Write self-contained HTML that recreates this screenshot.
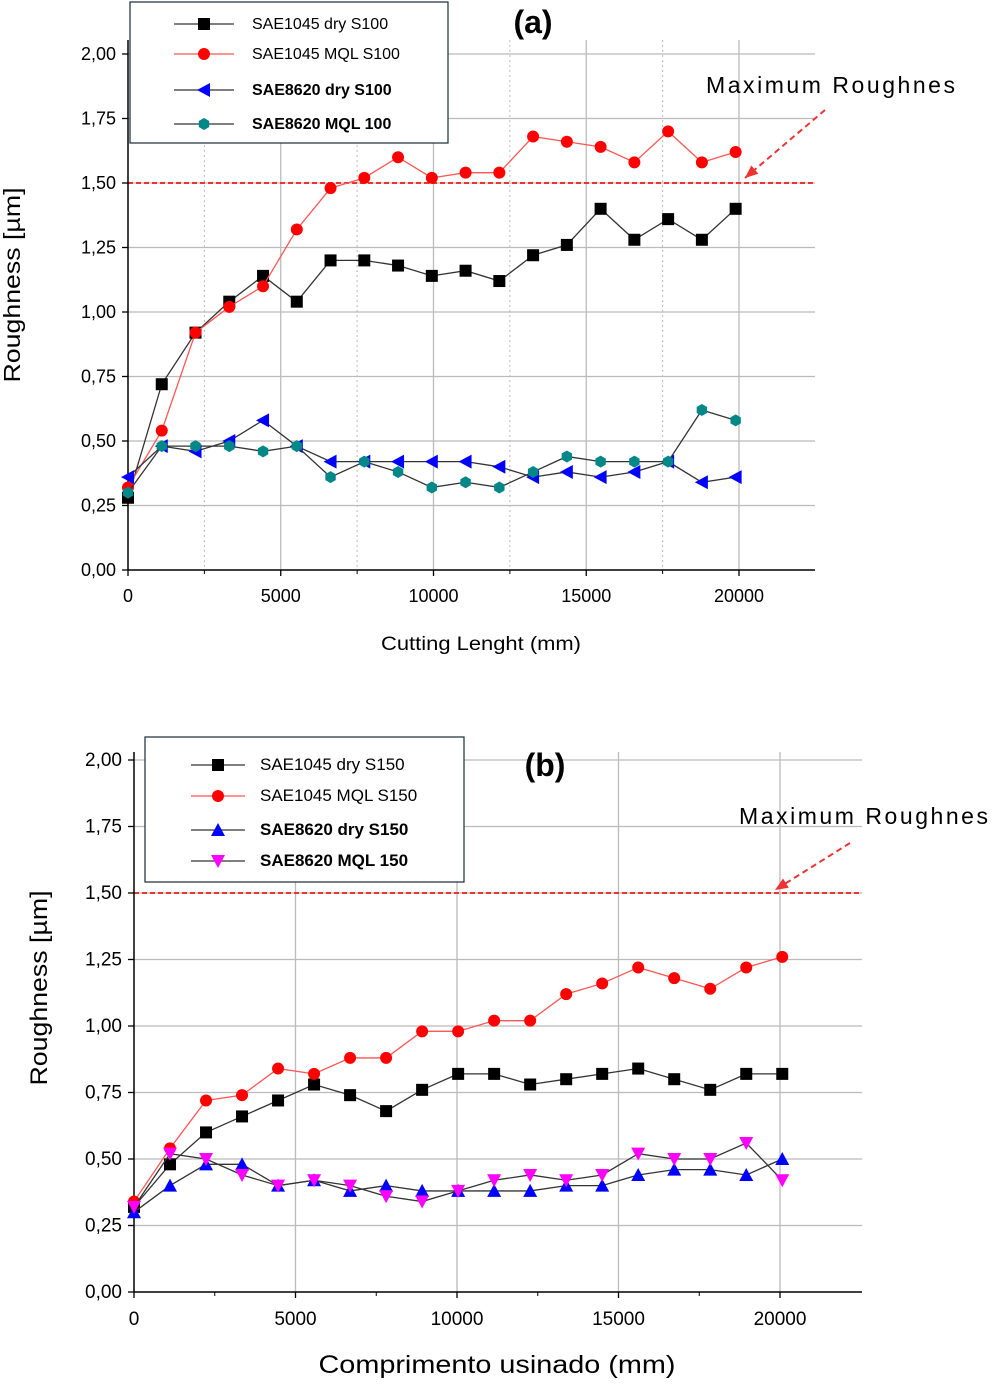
<!DOCTYPE html>
<html><head><meta charset="utf-8"><style>
body{margin:0;background:#fff;font-family:"Liberation Sans",Arial,sans-serif}
svg{display:block}
text{font-family:"Liberation Sans",Arial,sans-serif}
</style></head><body>
<svg id="s" width="993" height="1388" viewBox="0 0 993 1388"></svg>
<script>
const xStepA = 1105, xStepB = 1115;
const aBlack=[0.28,0.72,0.92,1.04,1.14,1.04,1.20,1.20,1.18,1.14,1.16,1.12,1.22,1.26,1.40,1.28,1.36,1.28,1.40];
const aRed=[0.32,0.54,0.92,1.02,1.10,1.32,1.48,1.52,1.60,1.52,1.54,1.54,1.68,1.66,1.64,1.58,1.70,1.58,1.62];
const aBlue=[0.36,0.48,0.46,0.50,0.58,0.48,0.42,0.42,0.42,0.42,0.42,0.40,0.36,0.38,0.36,0.38,0.42,0.34,0.36];
const aTeal=[0.30,0.48,0.48,0.48,0.46,0.48,0.36,0.42,0.38,0.32,0.34,0.32,0.38,0.44,0.42,0.42,0.42,0.62,0.58];
const bBlack=[0.32,0.48,0.60,0.66,0.72,0.78,0.74,0.68,0.76,0.82,0.82,0.78,0.80,0.82,0.84,0.80,0.76,0.82,0.82];
const bRed=[0.34,0.54,0.72,0.74,0.84,0.82,0.88,0.88,0.98,0.98,1.02,1.02,1.12,1.16,1.22,1.18,1.14,1.22,1.26];
const bBlue=[0.30,0.40,0.48,0.48,0.40,0.42,0.38,0.40,0.38,0.38,0.38,0.38,0.40,0.40,0.44,0.46,0.46,0.44,0.50];
const bMag=[0.32,0.52,0.50,0.44,0.40,0.42,0.40,0.36,0.34,0.38,0.42,0.44,0.42,0.44,0.52,0.50,0.50,0.56,0.42];
const xTicks=[0,5000,10000,15000,20000];
const yTicks=[0,0.25,0.5,0.75,1,1.25,1.5,1.75,2];
const yTickLabels=["0,00","0,25","0,50","0,75","1,00","1,25","1,50","1,75","2,00"];
const maxR=1.5;

const S=document.getElementById('s');const NS='http://www.w3.org/2000/svg';
function el(t,a,p){const e=document.createElementNS(NS,t);for(const k in a)e.setAttribute(k,a[k]);(p||S).appendChild(e);return e;}
function txt(x,y,s,a){const e=el('text',Object.assign({x:x,y:y},a));e.textContent=s;return e;}

function marker(g,type,x,y,c){
  let e;const r=6;
  if(type==='sq')e=el('rect',{x:x-r,y:y-r,width:2*r,height:2*r,fill:c},g);
  else if(type==='ci')e=el('circle',{cx:x,cy:y,r:r,fill:c},g);
  else if(type==='lt')e=el('polygon',{points:`${x-7},${y} ${x+6},${y-7} ${x+6},${y+7}`,fill:c},g);
  else if(type==='hx')e=el('polygon',{points:[0,1,2,3,4,5].map(i=>{const a=Math.PI/3*i+Math.PI/6;return (x+6*Math.cos(a))+','+(y+6*Math.sin(a));}).join(' '),fill:c},g);
  else if(type==='ut')e=el('polygon',{points:`${x},${y-7} ${x+7},${y+6} ${x-7},${y+6}`,fill:c},g);
  else e=el('polygon',{points:`${x},${y+7} ${x+7},${y-6} ${x-7},${y-6}`,fill:c},g);
  
}

function chart(o){
  const X=v=>o.x0+v*o.kx, Y=v=>o.y0-v*o.ky;
  const g=el('g',{});
  yTicks.slice(1).forEach(v=>el('line',{x1:o.x0,x2:o.xEnd,y1:Y(v),y2:Y(v),stroke:'#bbb','stroke-width':1.3},g));
  xTicks.slice(1).forEach(v=>el('line',{x1:X(v),x2:X(v),y1:o.top,y2:o.y0,stroke:'#bbb','stroke-width':1.3},g));
  if(o.dotted)[2500,7500,12500,17500].forEach(v=>el('line',{x1:X(v),x2:X(v),y1:o.top,y2:o.y0,stroke:'#bbb','stroke-dasharray':'2,3'},g));
  el('line',{x1:o.x0,x2:o.xEnd,y1:Y(maxR),y2:Y(maxR),stroke:'#e33','stroke-width':2,'stroke-dasharray':'5,3',},g);
  el('line',{x1:o.x0,x2:o.x0,y1:o.top,y2:o.y0,stroke:'#000','stroke-width':1.5,},g);
  el('line',{x1:o.x0,x2:o.xEnd,y1:o.y0,y2:o.y0,stroke:'#000','stroke-width':1.5,},g);
  yTicks.forEach((v,i)=>{el('line',{x1:o.x0-6,x2:o.x0,y1:Y(v),y2:Y(v),stroke:'#000','stroke-width':1.3},g);
    txt(o.x0-12,Y(v)+6,yTickLabels[i],{'text-anchor':'end','font-size':o.fs,});});
  xTicks.forEach(v=>{el('line',{x1:X(v),x2:X(v),y1:o.y0,y2:o.y0+6,stroke:'#000','stroke-width':1.3},g);
    txt(X(v),o.y0+o.fs+14,String(v),{'text-anchor':'middle','font-size':o.fs,});});
  [2500,7500,12500,17500].forEach(v=>el('line',{x1:X(v),x2:X(v),y1:o.y0,y2:o.y0+4,stroke:'#000'},g));
  o.series.forEach(s=>{
    const sg=el('g',{},g);
    const pts=s.d.map((v,i)=>[X(i*o.step),Y(v)]);
    el('polyline',{points:pts.map(p=>p.join(',')).join(' '),fill:'none',stroke:s.line,'stroke-width':1.3},sg);
    pts.forEach(p=>marker(sg,s.m,p[0],p[1],s.c));
  });
  const L=el('g',{},g);
  el('rect',{x:o.lg[0],y:o.lg[1],width:o.lg[2],height:o.lg[3],fill:'#fff',stroke:'#1a2a3a','stroke-width':1.2},L);
  o.series.forEach((s,i)=>{const yy=o.lg[1]+o.lgy[i];const e=el('g',{},L);
    el('line',{x1:o.lg[0]+o.lgx[0],x2:o.lg[0]+o.lgx[1],y1:yy,y2:yy,stroke:s.line,'stroke-width':1.3},e);
    marker(e,s.m,o.lg[0]+(o.lgx[0]+o.lgx[1])/2,yy,s.c);
    txt(o.lg[0]+o.lgx[2],yy+5,s.label,{'font-size':o.lfs,'font-weight':s.bold?'bold':'normal',},e);});
  txt(o.ttl[0],o.ttl[1],o.title,{'font-size':32,'font-weight':'bold','text-anchor':'middle',});
  txt(o.mr[0],o.mr[1],'Maximum  Roughnes',{'font-size':o.mrfs,textLength:249,lengthAdjust:'spacing',});
  const a=o.arr;el('line',{x1:a[0],y1:a[1],x2:a[2],y2:a[3],stroke:'#e33','stroke-width':2,'stroke-dasharray':'6,4',});
  const ang=Math.atan2(a[3]-a[1],a[2]-a[0]);
  el('polygon',{points:`${a[2]},${a[3]} ${a[2]-14*Math.cos(ang-0.4)},${a[3]-14*Math.sin(ang-0.4)} ${a[2]-14*Math.cos(ang+0.4)},${a[3]-14*Math.sin(ang+0.4)}`,fill:'#e33'});
  txt(0,0,'Roughness [µm]',{'font-size':o.yfs,'text-anchor':'middle',textLength:195,lengthAdjust:'spacingAndGlyphs',transform:`translate(${o.yt[0]},${o.yt[1]}) rotate(-90)`,});
  txt(o.xt[0],o.xt[1],o.xtitle,{'font-size':o.xfs,'text-anchor':'middle',textLength:o.xtl,lengthAdjust:'spacingAndGlyphs',});
}
chart({name:'chart-a',x0:128,y0:570,kx:0.03055,ky:258,xEnd:815,top:40,step:xStepA,fs:18,dotted:true,
  series:[{name:'series-sae1045-dry-s100',d:aBlack,m:'sq',c:'#000',line:'#333',label:'SAE1045 dry S100'},
          {name:'series-sae1045-mql-s100',d:aRed,m:'ci',c:'#f00',line:'#f55',label:'SAE1045 MQL S100'},
          {name:'series-sae8620-dry-s100',d:aBlue,m:'lt',c:'#00f',line:'#333',label:'SAE8620 dry S100',bold:true},
          {name:'series-sae8620-mql-100',d:aTeal,m:'hx',c:'#088',line:'#333',label:'SAE8620 MQL 100',bold:true}],
  lg:[130,2,318,141],lgy:[22,52,88,122],lgx:[44,104,122],lfs:16,
  title:'(a)',ttl:[533,33],mr:[706,93],mrfs:23,arr:[825,110,745,178],
  yt:[20,285],yfs:23,xt:[481,650],xtl:200,xtitle:'Cutting  Lenght  (mm)',xfs:19});
chart({name:'chart-b',x0:134,y0:1292,kx:0.0323,ky:266,xEnd:862,top:752,step:xStepB,fs:19,dotted:false,
  series:[{name:'series-sae1045-dry-s150',d:bBlack,m:'sq',c:'#000',line:'#333',label:'SAE1045 dry S150'},
          {name:'series-sae1045-mql-s150',d:bRed,m:'ci',c:'#f00',line:'#f55',label:'SAE1045 MQL S150'},
          {name:'series-sae8620-dry-s150',d:bBlue,m:'ut',c:'#00f',line:'#333',label:'SAE8620 dry S150',bold:true},
          {name:'series-sae8620-mql-150',d:bMag,m:'dt',c:'#f0f',line:'#333',label:'SAE8620 MQL 150',bold:true}],
  lg:[145,737,319,145],lgy:[28,59,93,124],lgx:[46,100,115],lfs:17,
  title:'(b)',ttl:[545,776],mr:[739,824],mrfs:23,arr:[850,843,775,890],
  yt:[47,988],yfs:24,xt:[497,1373],xtl:357,xtitle:'Comprimento usinado (mm)',xfs:25});
</script>
</body></html>
